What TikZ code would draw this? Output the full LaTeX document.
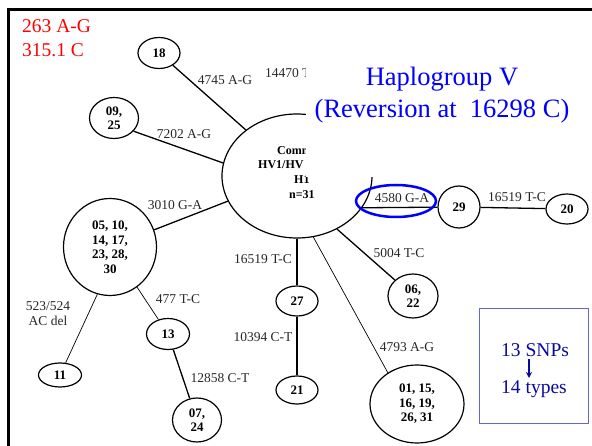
\documentclass[tikz,border=0pt]{standalone}
\usepackage{fontspec}
\setmainfont{Liberation Serif}
\usetikzlibrary{shapes.geometric,arrows.meta}
\definecolor{boxline}{RGB}{100,100,220}
\definecolor{boxtext}{RGB}{10,10,160}
\definecolor{lbltext}{RGB}{40,40,40}
\begin{document}
\begin{tikzpicture}[x=1pt,y=-1pt,
  hap/.style={draw,ellipse,line width=1.2pt,inner sep=0pt,align=center,
    font=\fontsize{13}{14.5}\selectfont\bfseries},
  lbl/.style={inner sep=0pt,text=lbltext,font=\fontsize{13.5}{15}\selectfont},
  hubtxt/.style={inner sep=0pt,anchor=base west,font=\fontsize{12}{14}\selectfont\bfseries},
  link/.style={line width=1.3pt},
  thinlink/.style={line width=0.7pt}]
\useasboundingbox (0,0) rectangle (592,446);
\fill[white] (0,0) rectangle (592,446);
% frame
\draw[line width=3pt] (8,446) -- (8,10) -- (592,10);
% haplotype nodes
\node[draw,ellipse,line width=1.2pt,minimum width=150pt,minimum height=124pt,inner sep=0pt] (hub) at (297,176) {};
\node[hubtxt] (h1) at (277,155) {Comm};
\node[hubtxt] (h2) at (258,169) {HV1/HV};
\node[hubtxt] (h3) at (294,184) {H1};
\node[hubtxt] (h4) at (289,199) {n=31};
\node[hap,minimum width=42pt,minimum height=31pt] (n18) at (159,53) {18};
\node[hap,minimum width=49pt,minimum height=41pt] (n09) at (114,118) {09,\\25};
\node[hap,minimum width=93pt,minimum height=97pt] (n05) at (110,247) {05, 10,\\14, 17,\\23, 28,\\30};
\node[hap,minimum width=43pt,minimum height=31pt] (n13) at (168,334) {13};
\node[hap,minimum width=43pt,minimum height=24pt] (n11) at (60,375) {11};
\node[hap,minimum width=49pt,minimum height=44pt] (n07) at (197,420) {07,\\24};
\node[hap,minimum width=42pt,minimum height=30pt] (n27) at (297,301) {27};
\node[hap,minimum width=42pt,minimum height=28pt] (n21) at (297,390) {21};
\node[hap,minimum width=50pt,minimum height=44pt] (n06) at (413,296) {06,\\22};
\node[hap,minimum width=94pt,minimum height=78pt] (n01) at (417,404) {01, 15,\\16, 19,\\26, 31};
\node[hap,minimum width=42pt,minimum height=42pt] (n29) at (459,207) {29};
\node[hap,minimum width=42pt,minimum height=30pt] (n20) at (567,209) {20};
% connectors
\draw[link] (hub.138) -- (n18);
\draw[link] (hub.170) -- (n09.-34);
\draw[link] (hub.200) -- (n05);
\draw[link] (hub.270) -- (n27);
\draw[link] (n27) -- (n21);
\draw[thinlink] (hub.285) -- (n01.133);
\draw[link] (hub.307) -- (n06);
\draw[link] (hub.334) -- (n29);
\draw[link] (n29) -- (n20);
\draw[thinlink] (n05.-56) -- (n13);
\draw[thinlink] (n05.-105) -- (n11);
\draw[link] (n13) -- (n07);
% mutation labels
\node[lbl] (l4745) at (225,80) {4745 A-G};
\node[lbl,anchor=west] (l14470) at (265,73) {14470 T};
\node[lbl] (l7202) at (184,134) {7202 A-G};
\node[lbl] (l3010) at (175,205) {3010 G-A};
\node[lbl] (l16519a) at (263,259) {16519 T-C};
\node[lbl] (l10394) at (263,337) {10394 C-T};
\node[lbl] (l477) at (178,299) {477 T-C};
\node[lbl,align=center] (l523) at (48,314) {523/524\\AC del};
\node[lbl] (l12858) at (220,378) {12858 C-T};
\node[lbl] (l5004) at (399,253) {5004 T-C};
\node[lbl] (l4793) at (407,347) {4793 A-G};
\node[lbl] (l4580) at (402,198) {4580 G-A};
\node[lbl] (l16519b) at (517,197) {16519 T-C};
\node[draw=blue,line width=2.5pt,ellipse,minimum width=80pt,minimum height=32pt] (mark) at (396,201) {};
% title cover
\fill[white] (306,30) rectangle (592,177);
\node[inner sep=0pt,anchor=base,text=blue,font=\fontsize{26.5}{30}\selectfont] (t1) at (442,86) {Haplogroup V};
\node[inner sep=0pt,anchor=base,text=blue,font=\fontsize{26.5}{30}\selectfont] (t2) at (442,118) {(Reversion at\ \ 16298 C)};
% red notes
\node[inner sep=0pt,anchor=base west,text=red,font=\fontsize{19.5}{22}\selectfont] (r1) at (22,33) {263 A-G};
\node[inner sep=0pt,anchor=base west,text=red,font=\fontsize{19.5}{22}\selectfont] (r2) at (22,57) {315.1 C};
% summary box
\node[draw=boxline,line width=1pt,minimum width=109pt,minimum height=114pt,inner sep=0pt] (sbox) at (533.5,366) {};
\node[inner sep=0pt,anchor=base west,text=boxtext,font=\fontsize{19.5}{22}\selectfont] (s1) at (501,357) {13 SNPs};
\node[inner sep=0pt,anchor=base west,text=boxtext,font=\fontsize{19.5}{22}\selectfont] (s2) at (501,393) {14 types};
\coordinate (a1) at (529,359);
\coordinate (a2) at (529,378);
\draw[boxtext,line width=1.6pt,-{Stealth[length=6pt,width=6pt]}] (a1) -- (a2);
\end{tikzpicture}
\end{document}
